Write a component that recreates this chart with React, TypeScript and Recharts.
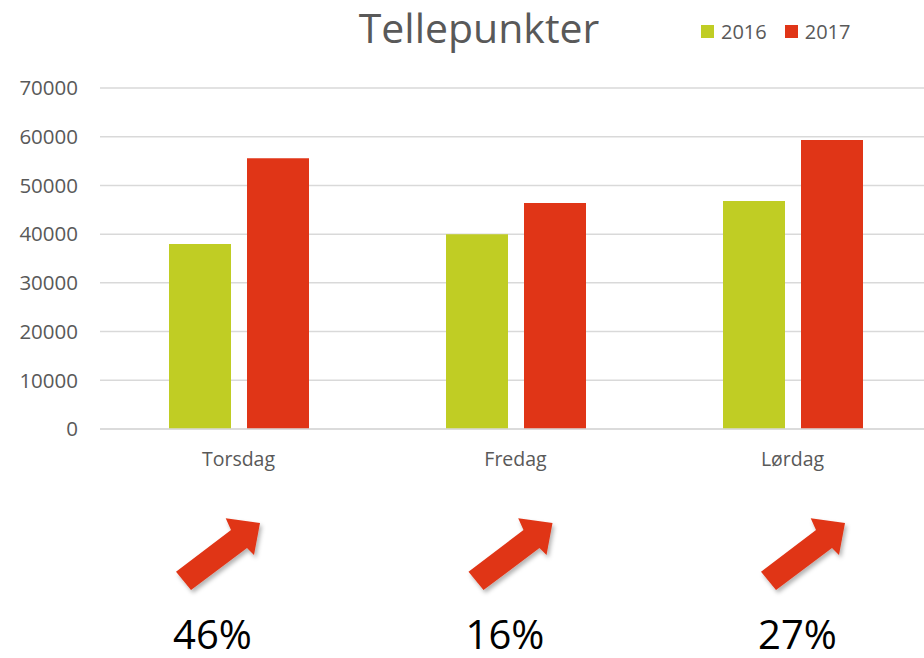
import React from "react";
import { BarChart, Bar, XAxis, YAxis, CartesianGrid } from "recharts";

const categories = ["Torsdag", "Fredag", "Lørdag"];
const values2016 = [38000, 40000, 46800];
const values2017 = [55600, 46400, 59300];
const yTicks = [0, 10000, 20000, 30000, 40000, 50000, 60000, 70000];
const seriesNames = ["2016", "2017"];
const colors = ["#C0CD24", "#E03517"];

const data = categories.map((c, i) => ({
  name: c,
  v2016: values2016[i],
  v2017: values2017[i],
}));

const FONT = "'Open Sans', 'Noto Sans', sans-serif";

const arrowPts: [number, number][] = [
  [176, 571.7],
  [231, 530],
  [225.7, 518.3],
  [260, 523],
  [254, 555],
  [247, 548],
  [191, 590],
];

const CustomTick = (props: any) => {
  const { x, y, payload, index } = props;
  const i = typeof index === "number" ? index : categories.indexOf(payload.value);
  const shift = i * 15.5;
  const refX = 238.5;
  const refY = 429;
  const pct = Math.round((values2017[i] / values2016[i] - 1) * 100);
  const pts = arrowPts
    .map(([px, py]) => `${x + (px - refX) + shift},${y + (py - refY)}`)
    .join(" ");
  return (
    <g>
      <text
        x={x}
        y={y + 37}
        textAnchor="middle"
        fill="#595959"
        fontSize={19.5}
        fontFamily={FONT}
      >
        {payload.value}
      </text>
      <polygon points={pts} fill="#E03517" filter="url(#arrowShadow)" />
      <text
        x={x - 26 + shift}
        y={y + 220}
        textAnchor="middle"
        fill="#000000"
        fontSize={40}
        fontFamily={FONT}
      >
        {pct}%
      </text>
    </g>
  );
};

export default function App() {
  return (
    <div
      style={{
        position: "absolute",
        left: 0,
        top: 0,
        width: 924,
        height: 658,
        overflow: "hidden",
        background: "#ffffff",
      }}
    >
      <div
        style={{
          position: "absolute",
          left: 279,
          width: 400,
          top: 0,
          textAlign: "center",
          fontFamily: FONT,
          fontSize: 41,
          lineHeight: "54px",
          color: "#595959",
          whiteSpace: "nowrap",
        }}
      >
        Tellepunkter
      </div>
      <div
        style={{
          position: "absolute",
          left: 701,
          top: 18,
          display: "flex",
          alignItems: "center",
          fontFamily: FONT,
          fontSize: 20,
          color: "#595959",
          whiteSpace: "nowrap",
        }}
      >
        {seriesNames.map((n, i) => (
          <div key={n} style={{ display: "flex", alignItems: "center", marginRight: i === 0 ? 18 : 0 }}>
            <div style={{ width: 13, height: 13, background: colors[i], marginRight: 7 }} />
            <span style={{ lineHeight: "27px" }}>{n}</span>
          </div>
        ))}
      </div>
      <BarChart
        width={932}
        height={658}
        data={data}
        margin={{ top: 88, right: 1, bottom: 0, left: 0 }}
        barGap={16}
        barSize={62}
      >
        <defs>
          <filter id="arrowShadow" x="-30%" y="-30%" width="160%" height="160%">
            <feDropShadow dx="2" dy="3" stdDeviation="2" floodColor="#000" floodOpacity="0.3" />
          </filter>
        </defs>
        <CartesianGrid vertical={false} stroke="#d9d9d9" strokeWidth={1.5} />
        <XAxis
          dataKey="name"
          height={229}
          tickLine={false}
          tickSize={0}
          tickMargin={0}
          axisLine={{ stroke: "#d9d9d9", strokeWidth: 1.5 }}
          tick={<CustomTick />}
          interval={0}
        />
        <YAxis
          width={100}
          domain={[0, 70000]}
          ticks={yTicks}
          axisLine={false}
          tickLine={false}
          tickSize={0}
          tickMargin={22}
          tick={{ fill: "#595959", fontSize: 20.5, fontFamily: FONT }}
        />
        <Bar dataKey="v2016" name="2016" fill={colors[0]} isAnimationActive={false} />
        <Bar dataKey="v2017" name="2017" fill={colors[1]} isAnimationActive={false} />
      </BarChart>
    </div>
  );
}
